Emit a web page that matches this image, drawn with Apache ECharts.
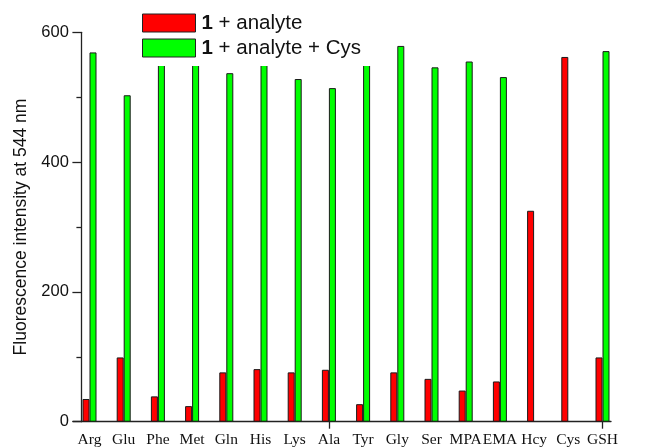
<!DOCTYPE html>
<html>
<head>
<meta charset="utf-8">
<script src="https://cdn.jsdelivr.net/npm/echarts@6/dist/echarts.min.js"></script>
<style>
  html, body { margin: 0; padding: 0; background: #fff; }
  #chart { width: 646px; height: 448px; }
</style>
</head>
<body>
<div id="chart"></div>
<script>
const categories = ['Arg','Glu','Phe','Met','Gln','His','Lys','Ala','Tyr','Gly','Ser','MPA','EMA','Hcy','Cys','GSH'];
const analyteValues = [35, 99, 39, 24, 76, 81, 76, 80, 27, 76, 66, 48, 62, 325, 562, 99];
const analyteCysValues = [569, 503, 575, 575, 537, 575, 528, 514, 572, 579, 546, 555, 531, null, null, 571];
const seriesNames = ['1 + analyte', '1 + analyte + Cys'];
const yTicks = [0, 200, 400, 600];

const chart = echarts.init(document.getElementById('chart'), null, { renderer: 'canvas' });
const axisColor = '#222';
const option = {
  animation: false,
  backgroundColor: '#fff',
  grid: [
    { left: 72.4, width: 547.2, top: 32.3, height: 389.4 },
    { left: 73, width: 538, top: 32.3, height: 389.4 }
  ],
  legend: {
    orient: 'vertical',
    left: 102,
    top: 6.5,
    padding: [6, 18, 7.5, 40],
    backgroundColor: '#fff',
    itemWidth: 53,
    itemHeight: 18,
    itemGap: 4,
    icon: 'rect',
    itemStyle: { borderColor: '#222', borderWidth: 1 },
    data: seriesNames,
    formatter: function (name) { return name.replace(/^1/, '{b|1}'); },
    textStyle: {
      fontFamily: 'Liberation Sans, Arial, sans-serif',
      fontSize: 20.5,
      color: '#111',
      lineHeight: 18,
      padding: [0, 0, 0, 1],
      rich: {
        b: { fontWeight: 'bold', fontSize: 20.5, fontFamily: 'Liberation Sans, Arial, sans-serif', color: '#111', lineHeight: 18 }
      }
    }
  },
  xAxis: [
    {
      type: 'category',
      gridIndex: 0,
      data: categories,
      boundaryGap: true,
      axisLine: { show: false },
      axisTick: {
        show: true,
        alignWithLabel: true,
        inside: false,
        length: 7,
        interval: function (index) { return index === 7 || index === 15; },
        lineStyle: { color: axisColor, width: 1.3 }
      },
      axisLabel: {
        interval: 0,
        margin: 10,
        fontFamily: 'Liberation Serif, Times New Roman, serif',
        fontSize: 15.5,
        color: '#111'
      },
      splitLine: { show: false }
    },
    {
      type: 'value',
      gridIndex: 1,
      min: 0,
      max: 1,
      axisLine: { show: true, lineStyle: { color: axisColor, width: 1.3 } },
      axisTick: { show: false },
      axisLabel: { show: false },
      splitLine: { show: false }
    }
  ],
  yAxis: [
    {
      type: 'value',
      gridIndex: 0,
      min: yTicks[0],
      max: yTicks[yTicks.length - 1],
      interval: 200,
      offset: -9,
      name: 'Fluorescence intensity at 544 nm',
      nameLocation: 'middle',
      nameGap: 42,
      nameTextStyle: {
        fontFamily: 'Liberation Sans, Arial, sans-serif',
        fontSize: 17.5,
        color: '#111'
      },
      axisLine: { show: true, lineStyle: { color: axisColor, width: 1.3 } },
      axisTick: { show: true, inside: false, length: 9, lineStyle: { color: axisColor, width: 1.3 } },
      minorTick: { show: true, splitNumber: 2, length: 5, lineStyle: { color: axisColor, width: 1.3 } },
      axisLabel: {
        margin: 12.5,
        fontFamily: 'Liberation Sans, Arial, sans-serif',
        fontSize: 16.5,
        color: '#111'
      },
      splitLine: { show: false }
    },
    {
      type: 'value',
      gridIndex: 1,
      show: false
    }
  ],
  series: [
    {
      name: seriesNames[0],
      type: 'bar',
      xAxisIndex: 0,
      yAxisIndex: 0,
      data: analyteValues,
      barWidth: 7,
      barGap: '0%',
      itemStyle: { color: '#ff0000', borderColor: '#1a1a1a', borderWidth: 1 }
    },
    {
      name: seriesNames[1],
      type: 'bar',
      xAxisIndex: 0,
      yAxisIndex: 0,
      data: analyteCysValues,
      barWidth: 7,
      barGap: '0%',
      itemStyle: { color: '#00ff00', borderColor: '#1a1a1a', borderWidth: 1 }
    }
  ]
};
chart.setOption(option);
</script>
</body>
</html>
